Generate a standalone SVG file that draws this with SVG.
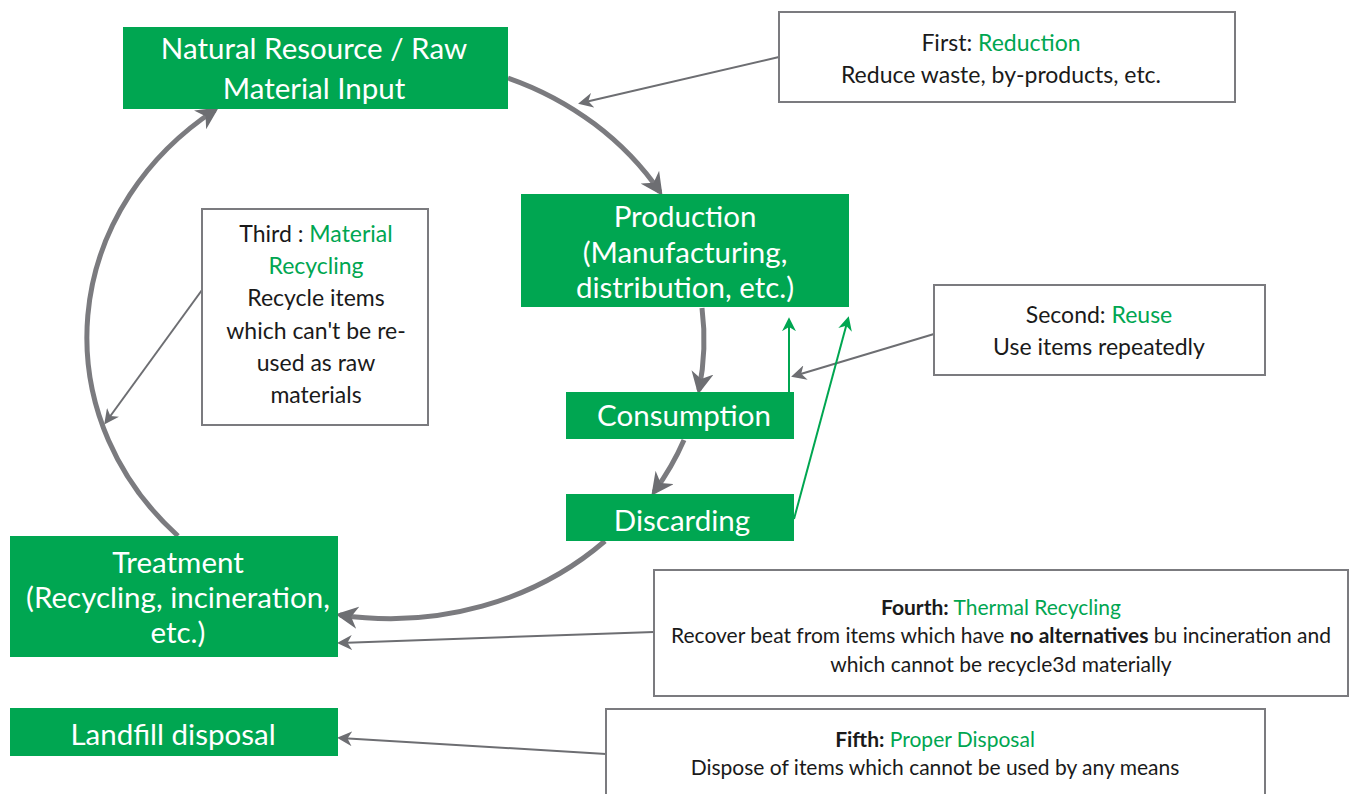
<svg xmlns="http://www.w3.org/2000/svg" width="1350" height="794" viewBox="0 0 1350 794">
<style>
.node{fill:#00a651}
.nt{font-family:Lato,"Noto Sans",sans-serif;fill:#ffffff;font-size:29.5px;text-anchor:middle}
.box{fill:#ffffff;stroke:#7b7b7f;stroke-width:2}
.bt{font-family:Lato,"Noto Sans",sans-serif;fill:#1a1a1a;font-size:23px;text-anchor:middle}
.g{fill:#00a651}
.cyc{fill:none;stroke:#7b7b7f;stroke-width:5}
.thin{fill:none;stroke:#6d6e72;stroke-width:2}
.gl{fill:none;stroke:#00a651;stroke-width:2}
</style>
<defs>
<marker id="ab" viewBox="0 0 10 10" refX="8" refY="5" markerWidth="4.5" markerHeight="4.5" markerUnits="strokeWidth" orient="auto"><path d="M0,0 L10,5 L0,10 L3,5 Z" fill="#6d6e72"/></marker>
<marker id="at" viewBox="0 0 10 10" refX="8" refY="5" markerWidth="15" markerHeight="15" markerUnits="userSpaceOnUse" orient="auto"><path d="M0,0 L10,5 L0,10 L3,5 Z" fill="#6d6e72"/></marker>
<marker id="ag" viewBox="0 0 10 10" refX="8" refY="5" markerWidth="14" markerHeight="14" markerUnits="userSpaceOnUse" orient="auto"><path d="M0,0 L10,5 L0,10 L3,5 Z" fill="#00a651"/></marker>
</defs>
<g id="connectors">
<path class="cyc" marker-end="url(#ab)" d="M508,78 A311,281 0 0 1 660,192"/>
<path class="cyc" marker-end="url(#ab)" d="M702,308 A311,281 0 0 1 699,390"/>
<path class="cyc" marker-end="url(#ab)" d="M684,440 A311,281 0 0 1 654,492"/>
<path class="cyc" marker-end="url(#ab)" d="M605,541 A311,281 0 0 1 340,615"/>
<path class="cyc" marker-end="url(#ab)" d="M178,536 A311,281 0 0 1 215,110"/>
<path class="thin" marker-end="url(#at)" d="M779,57 L581,103"/>
<path class="thin" marker-end="url(#at)" d="M202,290 L106,422"/>
<path class="thin" marker-end="url(#at)" d="M934,334 L794,376"/>
<path class="thin" marker-end="url(#at)" d="M654,632 L340,643"/>
<path class="thin" marker-end="url(#at)" d="M606,754 L340,738"/>
<path class="gl" marker-end="url(#ag)" d="M789,392 L789,320"/>
<path class="gl" marker-end="url(#ag)" d="M794,519 L848,319"/>
</g>
<g id="n-natural"><rect class="node" x="123" y="27" width="385" height="82"/><text class="nt" x="314" y="59">Natural Resource / Raw</text><text class="nt" x="314" y="99">Material Input</text></g>
<g id="n-production"><rect class="node" x="521" y="194" width="328" height="113"/><text class="nt" x="685" y="227">Production</text><text class="nt" x="685" y="263">(Manufacturing,</text><text class="nt" x="685" y="298">distribution, etc.)</text></g>
<g id="n-consumption"><rect class="node" x="566" y="392" width="228" height="47"/><text class="nt" x="684" y="426">Consumption</text></g>
<g id="n-discarding"><rect class="node" x="566" y="494" width="228" height="47"/><text class="nt" x="682" y="531">Discarding</text></g>
<g id="n-treatment"><rect class="node" x="10" y="536" width="328" height="121"/><text class="nt" x="178" y="573">Treatment</text><text class="nt" x="178" y="608">(Recycling, incineration,</text><text class="nt" x="178" y="643">etc.)</text></g>
<g id="n-landfill"><rect class="node" x="10" y="708" width="328" height="48"/><text class="nt" x="173" y="745">Landfill disposal</text></g>
<g id="b-first"><rect class="box" x="779" y="12" width="456" height="90"/><text class="bt" x="1001" y="51">First: <tspan class="g">Reduction</tspan></text><text class="bt" x="1001" y="83">Reduce waste, by-products, etc.</text></g>
<g id="b-third"><rect class="box" x="202" y="209" width="226" height="216"/><text class="bt" x="316" y="242">Third : <tspan class="g">Material</tspan></text><text class="bt" x="316" y="274" style="fill:#00a651">Recycling</text><text class="bt" x="316" y="306">Recycle items</text><text class="bt" x="316" y="339">which can't be re-</text><text class="bt" x="316" y="371">used as raw</text><text class="bt" x="316" y="403">materials</text></g>
<g id="b-second"><rect class="box" x="934" y="285" width="331" height="90"/><text class="bt" x="1099" y="323">Second: <tspan class="g">Reuse</tspan></text><text class="bt" x="1099" y="355">Use items repeatedly</text></g>
<g id="b-fourth"><rect class="box" x="654" y="570" width="694" height="126"/><text class="bt" x="1001" y="615" style="font-size:21px"><tspan font-weight="bold">Fourth:</tspan> <tspan class="g">Thermal Recycling</tspan></text><text class="bt" x="1001" y="643" style="font-size:21px">Recover beat from items which have <tspan font-weight="bold">no alternatives</tspan> bu incineration and</text><text class="bt" x="1001" y="672" style="font-size:21px">which cannot be recycle3d materially</text></g>
<g id="b-fifth"><rect class="box" x="606" y="709" width="659" height="95"/><text class="bt" x="935" y="747" style="font-size:21px"><tspan font-weight="bold">Fifth:</tspan> <tspan class="g">Proper Disposal</tspan></text><text class="bt" x="935" y="775" style="font-size:21px">Dispose of items which cannot be used by any means</text></g>
</svg>
